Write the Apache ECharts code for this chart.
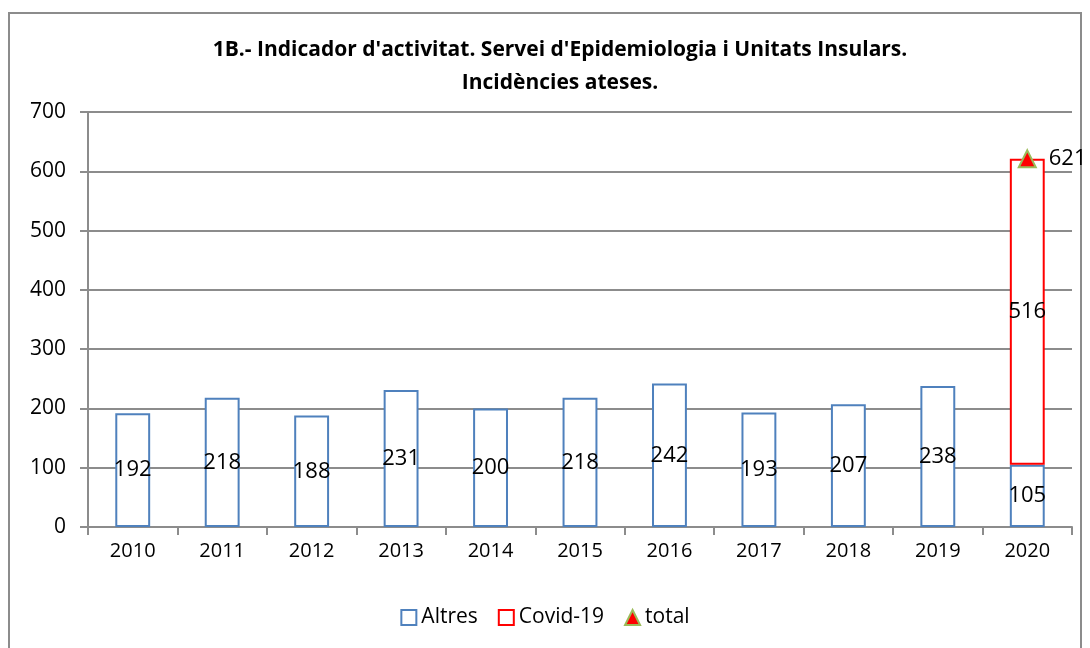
<!DOCTYPE html>
<html lang="ca">
<head>
<meta charset="utf-8">
<title>Incidències ateses</title>
<script src="https://cdn.jsdelivr.net/npm/echarts@6/dist/echarts.min.js"></script>
<style>
  html, body { margin: 0; padding: 0; background: #fff; }
  #frame { position: absolute; left: 8px; top: 12px; width: 1074px; height: 640px; border: 2px solid #8c8c8c; box-sizing: border-box; }
  #main { width: 1090px; height: 648px; }
</style>
</head>
<body>
<div id="frame"></div>
<div id="main"></div>
<script>
var years = ['2010', '2011', '2012', '2013', '2014', '2015', '2016', '2017', '2018', '2019', '2020'];
var altres = [192, 218, 188, 231, 200, 218, 242, 193, 207, 238, 105];
var covid = ['-', '-', '-', '-', '-', '-', '-', '-', '-', '-', 516];
var total = ['-', '-', '-', '-', '-', '-', '-', '-', '-', '-', 621];

var font = 'Open Sans';
var chart = echarts.init(document.getElementById('main'));

var option = {
  animation: false,
  title: {
    text: "1B.- Indicador d'activitat. Servei d'Epidemiologia i Unitats Insulars.\nIncidències ateses.",
    left: 555,
    textAlign: 'center',
    top: 29,
    textStyle: { fontFamily: font, fontSize: 21, fontWeight: 'bold', color: '#000', lineHeight: 33 }
  },
  legend: {
    bottom: 15,
    left: 'center',
    itemGap: 20,
    itemWidth: 15,
    itemHeight: 15,
    textStyle: { fontFamily: font, fontSize: 21, color: '#000' },
    data: [
      { name: 'Altres', icon: 'rect' },
      { name: 'Covid-19', icon: 'rect' },
      { name: 'total', icon: 'triangle' }
    ]
  },
  grid: { left: 88, right: 18, top: 112, bottom: 121 },
  xAxis: {
    type: 'category',
    data: years,
    axisLine: { lineStyle: { color: '#8c8c8c', width: 2 } },
    axisTick: { show: true, length: 8, lineStyle: { color: '#8c8c8c', width: 2 } },
    axisLabel: { fontFamily: font, fontSize: 20, color: '#000', margin: 14 }
  },
  yAxis: {
    type: 'value',
    min: 0,
    max: 700,
    interval: 100,
    axisLine: { show: true, lineStyle: { color: '#8c8c8c', width: 2 } },
    axisTick: { show: true, length: 8, lineStyle: { color: '#8c8c8c', width: 2 } },
    axisLabel: { fontFamily: font, fontSize: 21, color: '#000', margin: 22 },
    splitLine: { lineStyle: { color: '#8c8c8c', width: 2 } }
  },
  series: [
    {
      name: 'Altres',
      type: 'bar',
      stack: 'a',
      barWidth: '39%',
      data: altres,
      itemStyle: { color: '#fff', borderColor: '#4f81bd', borderWidth: 2 },
      label: { show: true, position: 'inside', fontFamily: font, fontSize: 22, color: '#000' }
    },
    {
      name: 'Covid-19',
      type: 'bar',
      stack: 'a',
      data: covid,
      itemStyle: { color: '#fff', borderColor: '#ff0000', borderWidth: 2 },
      label: { show: true, position: 'inside', fontFamily: font, fontSize: 22, color: '#000' }
    },
    {
      name: 'total',
      type: 'line',
      data: total,
      symbol: 'triangle',
      symbolSize: 17,
      lineStyle: { width: 0 },
      itemStyle: { color: '#ff0000', borderColor: '#9bbb59', borderWidth: 2 },
      label: { show: true, position: 'right', distance: 12, fontFamily: font, fontSize: 22, color: '#000' },
      z: 5
    }
  ]
};

chart.setOption(option);
</script>
</body>
</html>
